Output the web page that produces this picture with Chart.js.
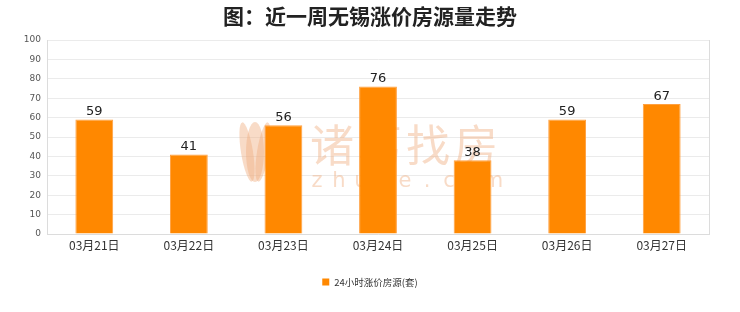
<!DOCTYPE html>
<html>
<head>
<meta charset="utf-8">
<script src="https://cdn.jsdelivr.net/npm/chart.js@4/dist/chart.umd.min.js"></script>
<style>
  html, body { margin: 0; padding: 0; background: #fff; }
  #wrap { width: 740px; height: 312px; position: relative; }
</style>
</head>
<body>
<div id="wrap"><canvas id="c" width="740" height="312"></canvas></div>
<script>
const categories = ['03月21日', '03月22日', '03月23日', '03月24日', '03月25日', '03月26日', '03月27日'];
const riseCounts = [59, 41, 56, 76, 38, 59, 67];
const seriesName = '24小时涨价房源(套)';
const chartTitle = '图：近一周无锡涨价房源量走势';
const brandName = '诸葛找房';
const brandSite = 'zhuge.com';

const CJK = '"Noto Sans CJK SC", "Noto Sans", sans-serif';
const BAR_COLOR = '#ff8800';

// Faint brand mark behind the bars
const brandMark = {
  id: 'brandMark',
  beforeDatasetsDraw(chart) {
    const a = chart.chartArea, ctx = chart.ctx;
    const cx = (a.left + a.right) / 2;
    const tint = 'rgba(240, 175, 130, 0.45)';
    ctx.save();
    ctx.fillStyle = tint;
    // leaf-like emblem
    const lx = cx - 123, ly = a.top + 112;
    [[-8, 6], [0, 9], [8, 6]].forEach(([dx, rx]) => {
      ctx.beginPath();
      ctx.ellipse(lx + dx, ly, rx, 30, dx * 0.02, 0, Math.PI * 2);
      ctx.fill();
    });
    ctx.font = '44px ' + CJK;
    ctx.textAlign = 'left';
    ctx.textBaseline = 'middle';
    let x = cx - 68;
    for (const ch of brandName) {
      ctx.fillText(ch, x, a.top + 105);
      x += 48;
    }
    ctx.font = '21px "DejaVu Sans", sans-serif';
    ctx.textAlign = 'center';
    x = cx - 61;
    for (const ch of brandSite) {
      ctx.fillText(ch, x, a.top + 142);
      x += 22;
    }
    ctx.restore();
  }
};

// Draws each bar's value just above its top
const valueLabels = {
  id: 'valueLabels',
  afterDatasetsDraw(chart) {
    const ctx = chart.ctx;
    const meta = chart.getDatasetMeta(0);
    ctx.save();
    ctx.font = '13px "DejaVu Sans", sans-serif';
    ctx.fillStyle = '#222';
    ctx.textAlign = 'center';
    ctx.textBaseline = 'bottom';
    meta.data.forEach((bar, i) => {
      ctx.fillText(String(riseCounts[i]), bar.x, bar.y - 1);
    });
    ctx.restore();
  }
};

// Frame edge on the right, title centred on the page, legend under the axis
const frameAndText = {
  id: 'frameAndText',
  afterDraw(chart) {
    const a = chart.chartArea, ctx = chart.ctx;
    const W = chart.width;
    ctx.save();
    ctx.strokeStyle = '#dcdcdc';
    ctx.lineWidth = 1;
    ctx.beginPath();
    ctx.moveTo(Math.round(a.right) + 0.5, a.top);
    ctx.lineTo(Math.round(a.right) + 0.5, a.bottom);
    ctx.stroke();

    ctx.fillStyle = '#222';
    ctx.font = 'bold 21px ' + CJK;
    ctx.textAlign = 'center';
    ctx.textBaseline = 'middle';
    ctx.fillText(chartTitle, W / 2, 16);

    ctx.font = '9.5px ' + CJK;
    const tw = ctx.measureText(seriesName).width;
    const box = 7, gap = 5;
    const total = box + gap + tw;
    const x0 = W / 2 - total / 2;
    const ly = a.bottom + 48;
    ctx.fillStyle = chart.data.datasets[0].backgroundColor;
    ctx.fillRect(x0, ly - box / 2, box, box);
    ctx.fillStyle = '#333';
    ctx.textAlign = 'left';
    ctx.fillText(seriesName, x0 + box + gap, ly);
    ctx.restore();
  }
};

new Chart(document.getElementById('c'), {
  type: 'bar',
  data: {
    labels: categories,
    datasets: [{
      label: seriesName,
      data: riseCounts,
      backgroundColor: BAR_COLOR,
      borderColor: '#ffa040',
      borderWidth: 1,
      categoryPercentage: 0.4,
      barPercentage: 1.0
    }]
  },
  options: {
    responsive: false,
    animation: false,
    layout: { padding: { left: 0, right: 31, top: 40, bottom: 50 } },
    plugins: {
      title: { display: false },
      legend: { display: false },
      tooltip: { enabled: false }
    },
    scales: {
      x: {
        afterFit(scale) { scale.height = 28; },
        grid: { display: false, drawTicks: false },
        border: { color: '#dcdcdc' },
        ticks: { color: '#333', font: { family: CJK, size: 12 }, padding: 4 }
      },
      y: {
        min: 0, max: 100,
        afterFit(scale) { scale.width = 47; },
        ticks: { stepSize: 10, color: '#555', font: { family: '"DejaVu Sans", sans-serif', size: 9 }, padding: 6 },
        grid: { color: '#ebebeb', drawTicks: false },
        border: { color: '#dcdcdc' }
      }
    }
  },
  plugins: [brandMark, valueLabels, frameAndText]
});
</script>
</body>
</html>
